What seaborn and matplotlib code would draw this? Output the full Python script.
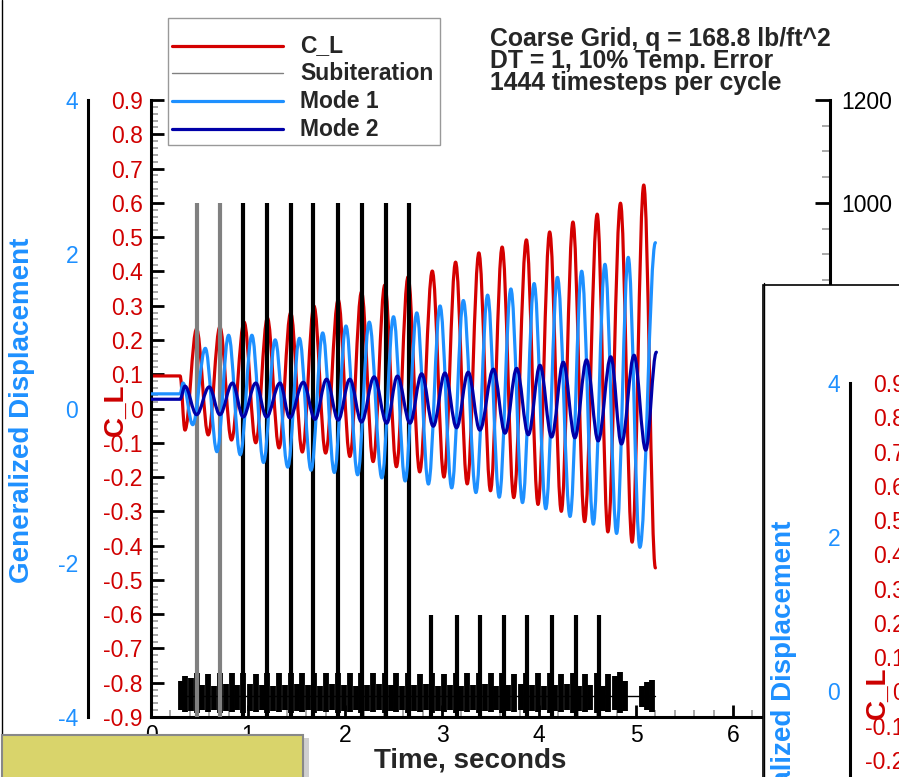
import numpy as np
import matplotlib
matplotlib.use("Agg")
import matplotlib.pyplot as plt
import seaborn as sns
from matplotlib.path import Path
from matplotlib.patches import PathPatch, Rectangle
from matplotlib.lines import Line2D
from matplotlib.ticker import MultipleLocator, FixedLocator

sns.set_style("white")
plt.rcParams["font.family"] = ["Liberation Sans", "DejaVu Sans"]
plt.rcParams["axes.unicode_minus"] = False

W, H = 899, 777

# ---------------- data ----------------
# C_L extrema (time [s], value)
cl_t = [0.0, 0.30, 0.35, 0.47, 0.59, 0.71, 0.83, 0.96, 1.08, 1.20, 1.32, 1.44, 1.56,
        1.68, 1.80, 1.93, 2.05, 2.17, 2.29, 2.41, 2.53, 2.65, 2.77, 2.90, 3.02, 3.14,
        3.26, 3.38, 3.50, 3.62, 3.74, 3.87, 3.99, 4.11, 4.23, 4.35, 4.47, 4.60, 4.71,
        4.84, 4.96, 5.08, 5.20]
cl_v = [0.095, 0.095, -0.063, 0.232, -0.077, 0.238, -0.092, 0.252, -0.100, 0.264,
        -0.115, 0.279, -0.127, 0.299, -0.130, 0.317, -0.140, 0.340, -0.155, 0.360,
        -0.170, 0.384, -0.185, 0.401, -0.200, 0.427, -0.220, 0.454, -0.240, 0.471,
        -0.260, 0.492, -0.280, 0.515, -0.300, 0.544, -0.330, 0.567, -0.360, 0.599,
        -0.390, 0.652, -0.465]

# Mode 1 generalized displacement extrema
m1_t = [0.0, 0.30, 0.33, 0.43, 0.56, 0.68, 0.80, 0.92, 1.04, 1.16, 1.28, 1.41, 1.53,
        1.65, 1.77, 1.89, 2.01, 2.13, 2.25, 2.38, 2.50, 2.62, 2.74, 2.86, 2.98, 3.10,
        3.22, 3.35, 3.47, 3.59, 3.71, 3.83, 3.95, 4.07, 4.19, 4.32, 4.44, 4.56, 4.68,
        4.80, 4.92, 5.04, 5.20]
m1_v = [0.19, 0.19, 0.33, -0.21, 0.78, -0.56, 0.95, -0.60, 0.95, -0.70, 0.89, -0.76,
        0.91, -0.80, 0.98, -0.83, 1.07, -0.86, 1.12, -0.90, 1.19, -0.94, 1.24, -0.98,
        1.33, -1.03, 1.40, -1.09, 1.47, -1.15, 1.55, -1.22, 1.62, -1.30, 1.70, -1.40,
        1.78, -1.50, 1.87, -1.62, 1.96, -1.80, 2.15]

# Mode 2 generalized displacement extrema
m2_t = [0.0, 0.30, 0.35, 0.47, 0.60, 0.71, 0.84, 0.95, 1.08, 1.19, 1.33, 1.43, 1.57,
        1.69, 1.81, 1.93, 2.05, 2.17, 2.30, 2.43, 2.54, 2.67, 2.79, 2.91, 3.03, 3.15,
        3.27, 3.39, 3.53, 3.65, 3.77, 3.89, 4.01, 4.13, 4.25, 4.37, 4.49, 4.61, 4.74,
        4.85, 4.98, 5.10, 5.21]
m2_v = [0.12, 0.12, 0.29, -0.08, 0.28, -0.08, 0.33, -0.11, 0.33, -0.11, 0.33, -0.12,
        0.34, -0.14, 0.38, -0.15, 0.38, -0.175, 0.41, -0.19, 0.42, -0.19, 0.45, -0.23,
        0.46, -0.25, 0.47, -0.28, 0.51, -0.32, 0.52, -0.34, 0.56, -0.37, 0.60, -0.38,
        0.63, -0.42, 0.67, -0.46, 0.69, -0.54, 0.73]

# Subiteration spikes (time, count)
spike_t = [0.474, 0.711, 0.947, 1.195, 1.442, 1.668, 1.926, 2.173, 2.420, 2.657,
           2.89, 3.15, 3.39, 3.64, 3.88, 4.13, 4.38, 4.62]
spike_h = [1000, 1000, 1000, 1000, 1000, 1000, 1000, 1000, 1000, 1000,
           198, 198, 198, 198, 198, 198, 198, 198]
spike_gray = [True, True] + [False] * 16

# Subiteration noise bursts (time, low, high)
burst_t = [0.31, 0.35, 0.41, 0.47, 0.53, 0.59, 0.65, 0.71, 0.77, 0.83, 0.89, 0.95,
           1.02, 1.08, 1.14, 1.20, 1.26, 1.32, 1.38, 1.44, 1.50, 1.56, 1.62, 1.68,
           1.74, 1.80, 1.87, 1.93, 1.99, 2.05, 2.11, 2.17, 2.23, 2.29, 2.35, 2.41,
           2.47, 2.53, 2.59, 2.65, 2.71, 2.77, 2.84, 2.90, 2.96, 3.02, 3.08, 3.14,
           3.20, 3.26, 3.32, 3.38, 3.44, 3.50, 3.56, 3.62, 3.68, 3.74, 3.81, 3.87,
           3.93, 3.99, 4.05, 4.11, 4.17, 4.23, 4.29, 4.35, 4.41, 4.47, 4.53, 4.60,
           4.66, 4.71, 4.78, 4.84, 4.89, 5.06, 5.11, 5.16]
burst_hi = [70, 80, 76, 86, 62, 84, 60, 86, 64, 85, 62, 86, 64, 84, 62, 86, 60, 86,
            63, 86, 64, 85, 62, 86, 60, 86, 64, 85, 62, 86, 60, 86, 62, 85, 64, 86,
            62, 86, 60, 86, 62, 84, 64, 86, 60, 84, 62, 86, 60, 85, 62, 86, 64, 85,
            60, 86, 62, 84, 64, 86, 62, 85, 60, 86, 62, 84, 64, 86, 60, 84, 62, 86,
            60, 84, 80, 88, 70, 60, 68, 72]
burst_lo = [14, 10, 12, 8, 14, 10, 14, 8, 12, 10, 14, 8, 12, 10, 14, 8, 12, 10,
            14, 8, 12, 10, 14, 8, 12, 10, 14, 8, 12, 10, 14, 8, 12, 10, 14, 8,
            12, 10, 14, 8, 12, 10, 14, 8, 12, 10, 14, 8, 12, 10, 14, 8, 12, 10,
            14, 8, 12, 10, 14, 8, 12, 10, 14, 8, 12, 10, 14, 8, 12, 10, 14, 8,
            12, 10, 14, 8, 12, 20, 14, 10]
base_t = [0.30, 5.20]
base_v = [40, 40]

cl_ticks = [-0.9, -0.8, -0.7, -0.6, -0.5, -0.4, -0.3, -0.2, -0.1, 0.0,
            0.1, 0.2, 0.3, 0.4, 0.5, 0.6, 0.7, 0.8, 0.9]
cl_labels = ["-0.9", "-0.8", "-0.7", "-0.6", "-0.5", "-0.4", "-0.3", "-0.2", "-0.1", "0",
             "0.1", "0.2", "0.3", "0.4", "0.5", "0.6", "0.7", "0.8", "0.9"]
gd_ticks = [-4, -2, 0, 2, 4]
gd_labels = ["-4", "-2", "0", "2", "4"]
sub_ticks = [0, 200, 400, 600, 800, 1000, 1200]
sub_labels = ["", "", "", "", "", "1000", "1200"]   # lower ones lie under the overlapping slide
x_ticks = [0, 1, 2, 3, 4, 5, 6, 7]
x_labels = ["0", "1", "2", "3", "4", "5", "6", ""]  # "7" lies under the overlapping slide

legend_labels = ["C_L", "Subiteration", "Mode 1", "Mode 2"]
title_lines = ["Coarse Grid, q = 168.8 lb/ft^2", "DT = 1, 10% Temp. Error",
               "1444 timesteps per cycle"]

RED = "#d40000"
LBLUE = "#1e90ff"
NAVY = "#0000a8"
GRAY = "#808080"


def fx(x):
    return x / W


def fy(y):
    return 1 - y / H


def smooth_path(ts, vs):
    k = 0.363
    verts = [(ts[0], vs[0])]
    codes = [Path.MOVETO]
    for i in range(len(ts) - 1):
        t0, v0, t1, v1 = ts[i], vs[i], ts[i + 1], vs[i + 1]
        d = t1 - t0
        verts += [(t0 + k * d, v0), (t1 - k * d, v1), (t1, v1)]
        codes += [Path.CURVE4] * 3
    return Path(verts, codes)


def draw_slide(fig, ox, oy, z, tag, full=True):
    # slide frame line on left
    fig.add_artist(Line2D([fx(2 + ox)] * 2, [fy(0 + oy), fy(735 + oy)],
                          color="black", lw=1.0, zorder=z))
    L, R, T, B = 151, 830, 100, 717
    rect = [fx(L + ox), fy(B + oy), (R - L) / W, (B - T) / H]
    ax = fig.add_axes(rect, zorder=z + 1, label=tag + "cl")
    ax3 = fig.add_axes(rect, zorder=z + 2, label=tag + "sub")
    ax2 = fig.add_axes(rect, zorder=z + 3, label=tag + "gd")

    # visible labels (the overlapping slide is cut by the figure edge)
    if full:
        cl_lab = cl_labels
        gd_lab = gd_labels
    else:
        cl_lab = [s if v >= -0.25 else "" for s, v in zip(cl_labels, cl_ticks)]
        gd_lab = [s if v >= 0 else "" for s, v in zip(gd_labels, gd_ticks)]

    # --- C_L axes (main frame) ---
    ax.set_xlim(0, 7)
    ax.set_ylim(-0.9, 0.9)
    ax.patch.set_alpha(0)
    for s in ["top", "right"]:
        ax.spines[s].set_visible(False)
    for s in ["left", "bottom"]:
        ax.spines[s].set_linewidth(2.2)
        ax.spines[s].set_color("black")
    ax.set_xticks(x_ticks)
    ax.set_xticklabels(x_labels)
    ax.xaxis.set_minor_locator(MultipleLocator(0.2))
    ax.set_yticks(cl_ticks)
    ax.set_yticklabels(cl_lab)
    ax.yaxis.set_minor_locator(MultipleLocator(0.02))
    ax.tick_params(which="major", direction="in", length=9, width=2.0, color="black")
    ax.tick_params(which="minor", direction="in", length=5, width=1.2, color="#999999")
    ax.tick_params(axis="y", which="major", labelcolor="#d00000", labelsize=16.5, pad=6)
    ax.tick_params(axis="x", which="major", labelcolor="black", labelsize=16.5, pad=5,
                   labelbottom=full)
    ax.tick_params(left=True, bottom=True, right=False, top=False)
    ax.tick_params(which="minor", left=True, bottom=True, right=False, top=False)
    ax.add_patch(PathPatch(smooth_path(cl_t, cl_v), fill=False, edgecolor=RED,
                           lw=2.3, capstyle="round", joinstyle="round"))

    # --- Subiteration axis (right) ---
    ax3.set_xlim(0, 7)
    ax3.set_ylim(0, 1200)
    ax3.patch.set_visible(False)
    for s in ["top", "left", "bottom"]:
        ax3.spines[s].set_visible(False)
    ax3.spines["right"].set_linewidth(2.2)
    ax3.spines["right"].set_color("black")
    ax3.xaxis.set_visible(False)
    ax3.yaxis.tick_right()
    ax3.set_yticks(sub_ticks)
    ax3.set_yticklabels(sub_labels)
    ax3.yaxis.set_minor_locator(MultipleLocator(50))
    ax3.tick_params(axis="y", which="major", direction="in", length=11, width=2.0,
                    labelsize=16.5, pad=8, colors="black", labelright=full)
    ax3.tick_params(axis="y", which="minor", direction="in", length=6, width=1.2,
                    color="#999999")
    ax3.vlines(burst_t, burst_lo, burst_hi, colors="black", lw=4.2)
    sns.lineplot(x=base_t, y=base_v, ax=ax3, color="black", lw=1.0)
    cols = [GRAY if g else "black" for g in spike_gray]
    ax3.vlines(spike_t, 0, spike_h, colors=cols, lw=3.0)

    # --- Generalized displacement axis (outer left) ---
    ax2.set_xlim(0, 7)
    ax2.set_ylim(-4, 4)
    ax2.patch.set_visible(False)
    for s in ["top", "right", "bottom"]:
        ax2.spines[s].set_visible(False)
    ax2.spines["left"].set_position(("outward", 45.5))
    ax2.spines["left"].set_linewidth(2.2)
    ax2.spines["left"].set_color("black")
    ax2.xaxis.set_visible(False)
    ax2.set_yticks(gd_ticks)
    ax2.set_yticklabels(gd_lab)
    ax2.yaxis.set_minor_locator(MultipleLocator(0.5))
    ax2.tick_params(axis="y", which="major", direction="in", length=10, width=2.0,
                    labelsize=16.5, pad=7, labelcolor=LBLUE, color="black")
    ax2.tick_params(axis="y", which="minor", direction="in", length=5, width=1.2,
                    color="#999999")
    ax2.add_patch(PathPatch(smooth_path(m1_t, m1_v), fill=False, edgecolor=LBLUE,
                            lw=2.3, capstyle="round", joinstyle="round"))
    ax2.add_patch(PathPatch(smooth_path(m2_t, m2_v), fill=False, edgecolor=NAVY,
                            lw=2.3, capstyle="round", joinstyle="round"))

    # axis titles
    fig.text(fx(22 + ox), fy(410 + oy), "Generalized Displacement", fontsize=20,
             fontweight="bold", color=LBLUE, rotation=90, ha="center", va="center",
             zorder=z + 4)
    fig.text(fx(116 + ox), fy(410 + oy), "C_L", fontsize=20, fontweight="bold",
             color="#cc0000", rotation=90, ha="center", va="center", zorder=z + 4)
    if not full:
        return

    fig.text(fx(470 + ox), fy(760 + oy), "Time, seconds", fontsize=20,
             fontweight="bold", ha="center", va="center", zorder=z + 4)

    # legend
    fig.add_artist(Rectangle((fx(168 + ox), fy(145 + oy)), 272 / W, 127 / H,
                             facecolor="white", edgecolor="#999999", lw=1.0,
                             zorder=z + 5))
    rows = [46, 73, 101, 129]
    lcols = [RED, GRAY, LBLUE, NAVY]
    lws = [2.3, 1.0, 2.3, 2.3]
    for lab, r, c, w in zip(legend_labels, rows, lcols, lws):
        fig.add_artist(Line2D([fx(172 + ox), fx(283 + ox)], [fy(r + oy)] * 2,
                              color=c, lw=w, zorder=z + 6))
        fig.text(fx(300 + ox), fy(r + oy), lab, fontsize=16.5, fontweight="bold",
                 ha="left", va="center", zorder=z + 6)

    # annotation
    for line, yy in zip(title_lines, [39, 61, 83]):
        fig.text(fx(490 + ox), fy(yy + oy), line, fontsize=17.8, fontweight="bold",
                 ha="left", va="center", zorder=z + 6)


fig = plt.figure(figsize=(W / 100, H / 100), dpi=100)
fig.patch.set_facecolor("white")

draw_slide(fig, 0, 0, 1, "main")

# yellow note box at bottom-left
fig.add_artist(Rectangle((fx(2), fy(800)), 301 / W, 65 / H, facecolor="#d9d46b",
                         edgecolor="#888888", lw=1.5, zorder=20))
fig.add_artist(Rectangle((fx(304), fy(800)), 5 / W, 62 / H, facecolor="#cfcfcf",
                         edgecolor="none", zorder=19))

# overlapping second slide (inset) at bottom-right
fig.add_artist(Rectangle((fx(763), fy(800)), 150 / W, 515 / H, facecolor="white",
                         edgecolor="black", lw=1.2, zorder=30))
draw_slide(fig, 762, 283, 40, "inset", full=False)

fig.savefig("out.png", dpi=100)
